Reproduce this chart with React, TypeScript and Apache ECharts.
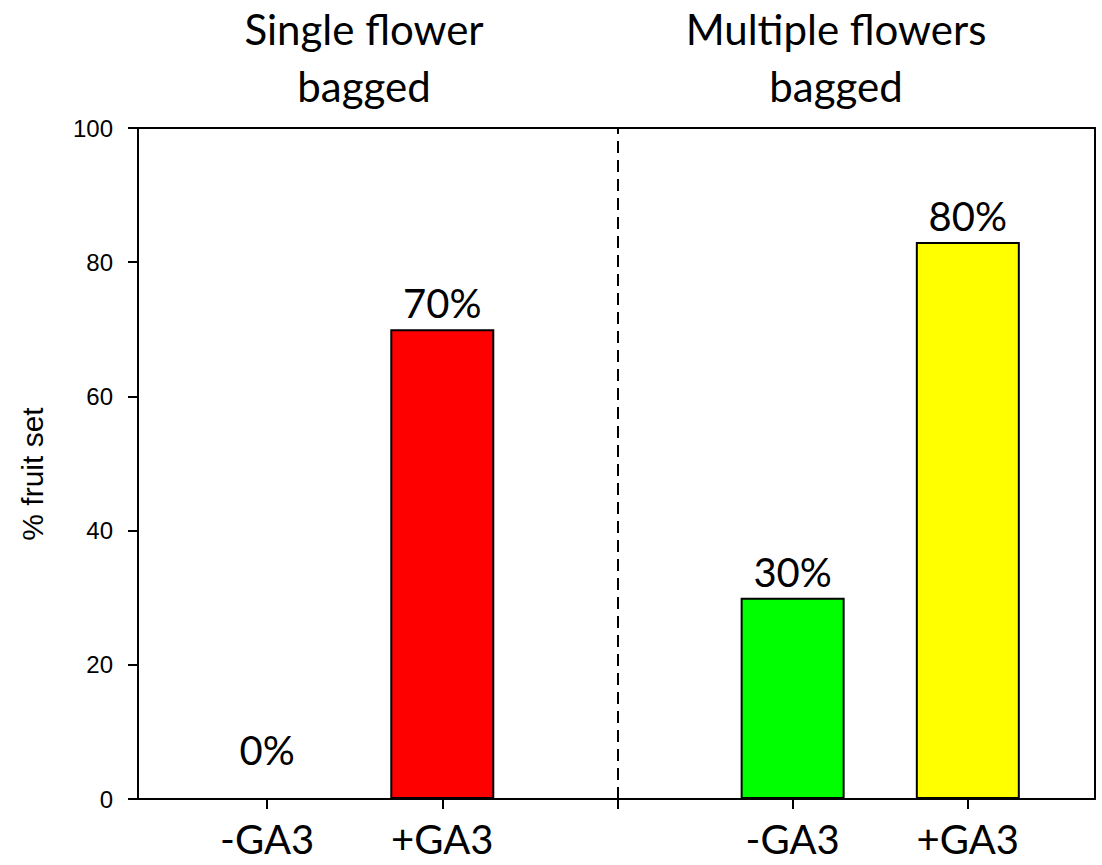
import React, { useEffect, useRef } from "react";
import * as echarts from "echarts";

const categoryLabels = ["-GA3", "+GA3", "-GA3", "+GA3"];
const positions = [1, 2, 4, 5];
const values = [0, 70, 30, 83];
const valueLabels = ["0%", "70%", "30%", "80%"];
const barColors = ["#FF0000", "#FF0000", "#00FF00", "#FFFF00"];
const yTicks = [0, 20, 40, 60, 80, 100];
const groupTitles = ["Single flower\nbagged", "Multiple flowers\nbagged"];
const yAxisTitle = "% fruit set";
const dividerAt = 3;

const CAL = "Lato, 'Open Sans', sans-serif";
const ARIAL = "'Liberation Sans', Arial, sans-serif";

export default function App() {
  const ref = useRef<HTMLDivElement>(null);
  useEffect(() => {
    if (!ref.current) return;
    const chart = echarts.init(ref.current, null, { renderer: "svg" });
    const xMin = 0.263;
    const xMax = 5.726;
    const option: any = {
      animation: false,
      backgroundColor: "#ffffff",
      grid: { left: 138, right: 7, top: 128, bottom: 66, containLabel: false },
      xAxis: [
        {
          type: "value",
          min: xMin,
          max: xMax,
          position: "bottom",
          axisLine: { show: true, onZero: false, lineStyle: { color: "#000", width: 2 } },
          axisTick: {
            show: true,
            length: 10,
            customValues: [1, 2, dividerAt, 4, 5],
            lineStyle: { color: "#000", width: 2 },
          },
          axisLabel: {
            show: true,
            customValues: positions,
            formatter: (v: number) => {
              const i = positions.indexOf(Math.round(v));
              return i >= 0 ? categoryLabels[i] : "";
            },
            fontFamily: CAL,
            fontSize: 40,
            color: "#000",
            margin: 20,
          },
          splitLine: { show: false },
        },
        {
          type: "value",
          min: xMin,
          max: xMax,
          position: "top",
          axisLine: { show: true, onZero: false, lineStyle: { color: "#000", width: 2 } },
          axisTick: { show: false },
          axisLabel: { show: false },
          splitLine: { show: false },
        },
      ],
      yAxis: [
        {
          type: "value",
          min: yTicks[0],
          max: yTicks[yTicks.length - 1],
          interval: 20,
          position: "left",
          axisLine: { show: true, onZero: false, lineStyle: { color: "#000", width: 2 } },
          axisTick: { show: true, length: 10, lineStyle: { color: "#000", width: 2 } },
          axisLabel: {
            fontFamily: ARIAL,
            fontSize: 24,
            color: "#000",
            margin: 25,
          },
          splitLine: { show: false },
        },
        {
          type: "value",
          min: 0,
          max: 100,
          position: "right",
          axisLine: { show: true, onZero: false, lineStyle: { color: "#000", width: 2 } },
          axisTick: { show: false },
          axisLabel: { show: false },
          splitLine: { show: false },
        },
      ],
      graphic: [
        ...groupTitles.map((t, i) => ({
          type: "text",
          x: i === 0 ? 364 : 836,
          y: 57,
          style: {
            text: t,
            align: "center",
            verticalAlign: "middle",
            fontFamily: CAL,
            fontSize: 42,
            lineHeight: 57,
            fill: "#000",
          },
        })),
        {
          type: "text",
          x: 32,
          y: 474,
          rotation: Math.PI / 2,
          style: {
            text: yAxisTitle,
            align: "center",
            verticalAlign: "middle",
            fontFamily: ARIAL,
            fontSize: 30,
            fill: "#000",
          },
        },
      ],
      series: [
        {
          type: "bar",
          xAxisIndex: 0,
          yAxisIndex: 0,
          barWidth: 104,
          data: positions.map((p, i) => ({
            value: [p, values[i]],
            itemStyle: { color: barColors[i], borderColor: "#000", borderWidth: values[i] > 0 ? 2 : 0 },
            label: values[i] === 0 ? { distance: 29 } : undefined,
          })),
          label: {
            show: true,
            position: "top",
            distance: 6,
            fontFamily: CAL,
            fontSize: 40,
            color: "#000",
            formatter: (p: any) => valueLabels[p.dataIndex],
          },
          markLine: {
            silent: true,
            symbol: "none",
            label: { show: false },
            lineStyle: { type: [12, 7], color: "#000", width: 2 },
            data: [{ xAxis: dividerAt }],
          },
        },
      ],
    };
    chart.setOption(option);
    return () => chart.dispose();
  }, []);
  return (
    <div
      ref={ref}
      style={{ position: "fixed", left: 0, top: 0, width: 1102, height: 865 }}
    />
  );
}
